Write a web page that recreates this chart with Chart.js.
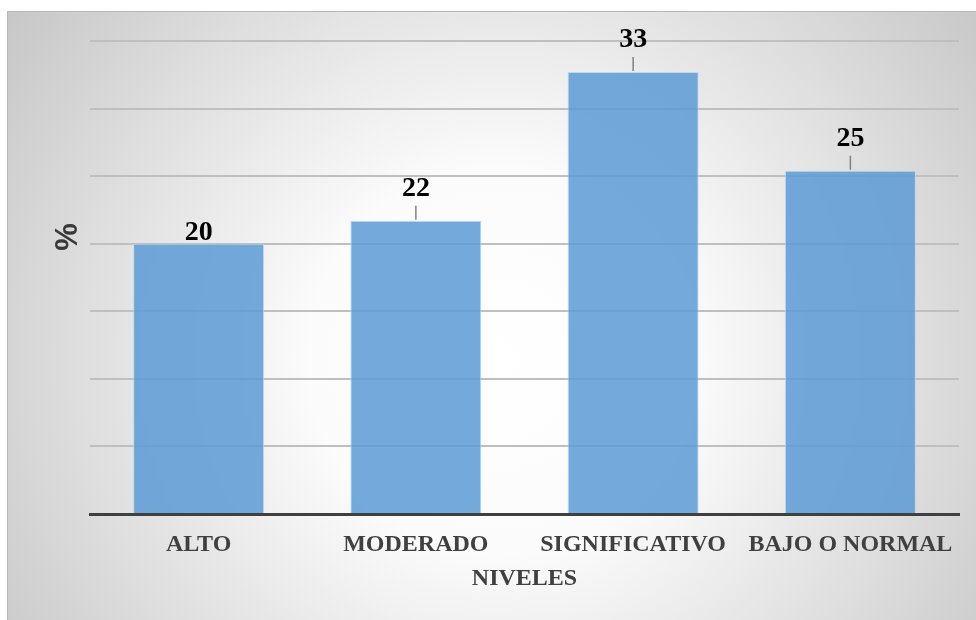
<!DOCTYPE html>
<html>
<head>
<meta charset="utf-8">
<script src="https://cdn.jsdelivr.net/npm/chart.js@4"></script>
<style>
    body { margin: 0; background: #ffffff; }
    canvas { display: block; }
</style>
</head>
<body>
<canvas id="grafico" width="976" height="620"></canvas>
<script>
// Datos del gráfico
var categorias = ['ALTO', 'MODERADO', 'SIGNIFICATIVO', 'BAJO O NORMAL'];
var porcentajes = [20, 21.7, 32.7, 25.4];
var etiquetas = ['20', '22', '33', '25'];
var conLinea = [false, true, true, true];

// Fondo con degradado radial y marco
var fondoPlugin = {
    id: 'fondo',
    beforeDraw: function (chart) {
        var ctx = chart.ctx;
        ctx.save();
        ctx.fillStyle = '#ffffff';
        ctx.fillRect(0, 0, chart.width, chart.height);
        var g = ctx.createRadialGradient(500, 360, 0, 500, 360, 640);
        g.addColorStop(0, '#ffffff');
        g.addColorStop(0.3, '#fbfbfb');
        g.addColorStop(1, '#c2c2c2');
        ctx.fillStyle = g;
        ctx.fillRect(7, 11, chart.width - 7, chart.height - 11);
        ctx.strokeStyle = '#b8b8b8';
        ctx.lineWidth = 1;
        ctx.beginPath();
        ctx.moveTo(7.5, chart.height);
        ctx.lineTo(7.5, 11.5);
        ctx.lineTo(chart.width, 11.5);
        ctx.stroke();

        // título del eje Y
        ctx.translate(68, 237);
        ctx.rotate(-Math.PI / 2);
        ctx.fillStyle = '#3a3a3a';
        ctx.font = 'bold 31px "Liberation Sans"';
        ctx.textAlign = 'center';
        ctx.textBaseline = 'middle';
        ctx.fillText('%', 0, 0);
        ctx.restore();
    }
};

// Etiquetas de datos con línea guía
var etiquetasPlugin = {
    id: 'etiquetas',
    afterDatasetsDraw: function (chart) {
        var ctx = chart.ctx;
        var barras = chart.getDatasetMeta(0).data;
        ctx.save();
        ctx.font = 'bold 28px "Liberation Serif"';
        ctx.textAlign = 'center';
        ctx.textBaseline = 'alphabetic';
        barras.forEach(function (barra, i) {
            var base = barra.y - 4;
            if (conLinea[i]) {
                ctx.strokeStyle = '#808080';
                ctx.lineWidth = 1.5;
                ctx.beginPath();
                ctx.moveTo(barra.x, barra.y - 1);
                ctx.lineTo(barra.x, barra.y - 15);
                ctx.stroke();
                base = barra.y - 25;
            }
            ctx.fillStyle = '#000000';
            ctx.fillText(etiquetas[i], barra.x, base);
        });
        ctx.restore();
    }
};

var ctx = document.getElementById('grafico').getContext('2d');
var grafico = new Chart(ctx, {
    type: 'bar',
    data: {
        labels: categorias,
        datasets: [{
            data: porcentajes,
            backgroundColor: 'rgba(91, 155, 213, 0.85)',
            borderColor: 'rgba(189, 215, 238, 0.9)',
            borderWidth: 1,
            categoryPercentage: 0.67,
            barPercentage: 0.9
        }]
    },
    options: {
        responsive: false,
        animation: false,
        devicePixelRatio: 1,
        layout: {
            padding: { left: 90, right: 17, top: 41, bottom: 23 }
        },
        plugins: {
            legend: { display: false },
            tooltip: { enabled: false }
        },
        scales: {
            y: {
                min: 0,
                max: 35,
                ticks: { display: false, stepSize: 5 },
                grid: { color: '#bfbfbf', lineWidth: 2, drawTicks: false },
                border: { display: false }
            },
            x: {
                afterFit: function (scale) {
                    scale.height = 83;
                },
                grid: { display: false, drawTicks: false },
                border: { display: true, color: '#404040', width: 3 },
                ticks: {
                    color: '#404040',
                    padding: 16,
                    font: { family: '"Liberation Serif"', size: 24, weight: 'bold' }
                },
                title: {
                    display: true,
                    text: 'NIVELES',
                    color: '#404040',
                    padding: { top: 8, bottom: 4 },
                    font: { family: '"Liberation Serif"', size: 24, weight: 'bold' }
                }
            }
        }
    },
    plugins: [fondoPlugin, etiquetasPlugin]
});
</script>
</body>
</html>
